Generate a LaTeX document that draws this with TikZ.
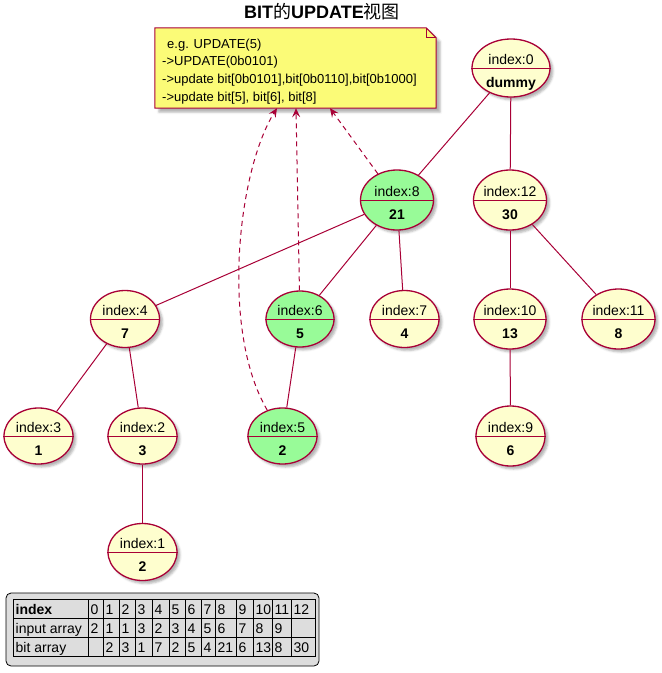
\documentclass[tikz,border=0pt]{standalone}
\usepackage{fontspec}
\setmainfont{Liberation Sans}
\newfontfamily\cjk{Noto Sans CJK SC}
\usetikzlibrary{shapes.geometric,shadows.blur,arrows.meta,calc}
\definecolor{umlred}{HTML}{A80036}
\definecolor{umlfill}{HTML}{FEFECE}
\definecolor{umlgreen}{HTML}{98FB98}
\definecolor{notefill}{HTML}{FBFB77}
\definecolor{legfill}{HTML}{DDDDDD}
\tikzset{
  bitnode/.style={ellipse, draw=umlred, line width=1.3pt, fill=umlfill, inner sep=0pt,
    blur shadow={shadow xshift=3pt, shadow yshift=-3pt, shadow opacity=30, shadow blur steps=4}},
  hit/.style={fill=umlgreen},
  lbl/.style={font=\fontsize{14}{16}\selectfont, anchor=base, inner sep=0pt},
  valtxt/.style={font=\fontsize{14}{16}\selectfont\bfseries, anchor=base, inner sep=0pt},
  conn/.style={draw=umlred, line width=1pt},
  upd/.style={draw=umlred, line width=1pt, dash pattern=on 5pt off 4pt, -{Stealth[length=9pt,width=8pt,inset=3.5pt]}},
  notetxt/.style={font=\fontsize{13}{15}\selectfont, anchor=base west, inner sep=0pt},
  cell/.style={font=\fontsize{14}{16}\selectfont, anchor=base west, inner sep=0pt},
}
\newcommand\bnode[7]{%
  \node[bitnode, minimum width=#3pt, minimum height=#4pt, #7] (#1) at (#2) {};
  \draw[umlred, line width=1pt] (#1.west) -- (#1.east);
  \node[lbl] (#1l) at ([yshift=4pt]#1.center) {#5};
  \node[valtxt] (#1v) at ([yshift=-19.5pt]#1.center) {#6};
}
\begin{document}
\begin{tikzpicture}[x=1pt,y=-1pt]
\useasboundingbox (0,0) rectangle (662,673);

% title
\node[font=\fontsize{18}{20}\selectfont\bfseries, anchor=base, inner sep=0pt] (title) at (322,18)
  {BIT{\cjk\mdseries 的}UPDATE{\cjk\mdseries 视图}};

% note
\node[minimum width=281pt, minimum height=80pt, inner sep=0pt] (note) at (295.5,68) {};
\path[fill=notefill, draw=umlred, line width=1pt,
  blur shadow={shadow xshift=4pt, shadow yshift=-4pt, shadow opacity=30, shadow blur steps=4}]
  (note.north west) -- ([xshift=-10pt]note.north east) -- ([yshift=-10pt]note.north east)
  -- (note.south east) -- (note.south west) -- cycle;
\draw[umlred, line width=1pt] ([xshift=-10pt]note.north east) -- ([xshift=-10pt,yshift=-10pt]note.north east) -- ([yshift=-10pt]note.north east);
\node[notetxt] (t1) at (167,48) {e.g. UPDATE(5)};
\node[notetxt] (t2) at (162,65.7) {->UPDATE(0b0101)};
\node[notetxt] (t3) at (162,83.4) {->update bit[0b0101],bit[0b0110],bit[0b1000]};
\node[notetxt] (t4) at (162,101) {->update bit[5], bit[6], bit[8]};

% tree nodes
\bnode{n0}{511,68}{78}{58}{index:0}{dummy}{}
\bnode{n8}{397,200}{73}{60}{index:8}{21}{hit}
\bnode{n12}{510,200}{73}{60}{index:12}{30}{}
\bnode{n4}{125,319}{69}{57}{index:4}{7}{}
\bnode{n6}{300,319}{68}{56}{index:6}{5}{hit}
\bnode{n7}{404.5,319}{69}{57}{index:7}{4}{}
\bnode{n10}{510,319}{72}{60}{index:10}{13}{}
\bnode{n11}{618.5,319}{73}{60}{index:11}{8}{}
\bnode{n3}{38.5,436}{69}{56}{index:3}{1}{}
\bnode{n2}{142.5,436}{69}{56}{index:2}{3}{}
\bnode{n5}{282.5,436}{69}{56}{index:5}{2}{hit}
\bnode{n9}{510.5,436}{69}{60}{index:9}{6}{}
\bnode{n1}{142.5,552}{69}{57}{index:1}{2}{}

% tree edges
\draw[conn] (n0) -- (n8);
\draw[conn] (n0) -- (n12);
\draw[conn] (n8) -- (n4);
\draw[conn] (n8) -- (n6);
\draw[conn] (n8) -- (n7);
\draw[conn] (n12) -- (n10);
\draw[conn] (n12) -- (n11);
\draw[conn] (n4) -- (n3);
\draw[conn] (n4) -- (n2);
\draw[conn] (n6) -- (n5);
\draw[conn] (n10) -- (n9);
\draw[conn] (n2) -- (n1);

% update arrows
\draw[upd] (n8) -- ([xshift=34.5pt]note.south);
\draw[upd] (n6) -- ([xshift=0.5pt]note.south);
\draw[upd] (n5) .. controls (220,330) and (238,170) .. ([xshift=-18.5pt]note.south);

% legend table
\draw[fill=legfill, line width=0.8pt, rounded corners=5pt] (6,593) rectangle (319,666);
\draw[line width=0.8pt] (13,599) rectangle (315,656);
\draw[line width=0.8pt] (13,618) -- (315,618) (13,637) -- (315,637);
\foreach \x in {88,103,119,135,152,169,185,201,215,236,253,272,291}
  \draw[line width=0.8pt] (\x,599) -- (\x,656);
\node[cell, font=\fontsize{14}{16}\selectfont\bfseries] (h0) at (15.5,614) {index};
\node[cell] (h1) at (15.5,633) {input array};
\node[cell] (h2) at (15.5,652) {bit array};
\foreach \x/\a/\b/\c [count=\i] in {88/0/2/{}, 103/1/1/2, 119/2/1/3, 135/3/3/1, 152/4/2/7, 169/5/3/2, 185/6/4/5, 201/7/5/4, 215/8/6/21, 236/9/7/6, 253/10/8/13, 272/11/9/8, 291/12/{}/30}
{
  \node[cell] (ra\i) at (\x+2.5,614) {\a};
  \node[cell] (rb\i) at (\x+2.5,633) {\b};
  \node[cell] (rc\i) at (\x+2.5,652) {\c};
}
\end{tikzpicture}
\end{document}
